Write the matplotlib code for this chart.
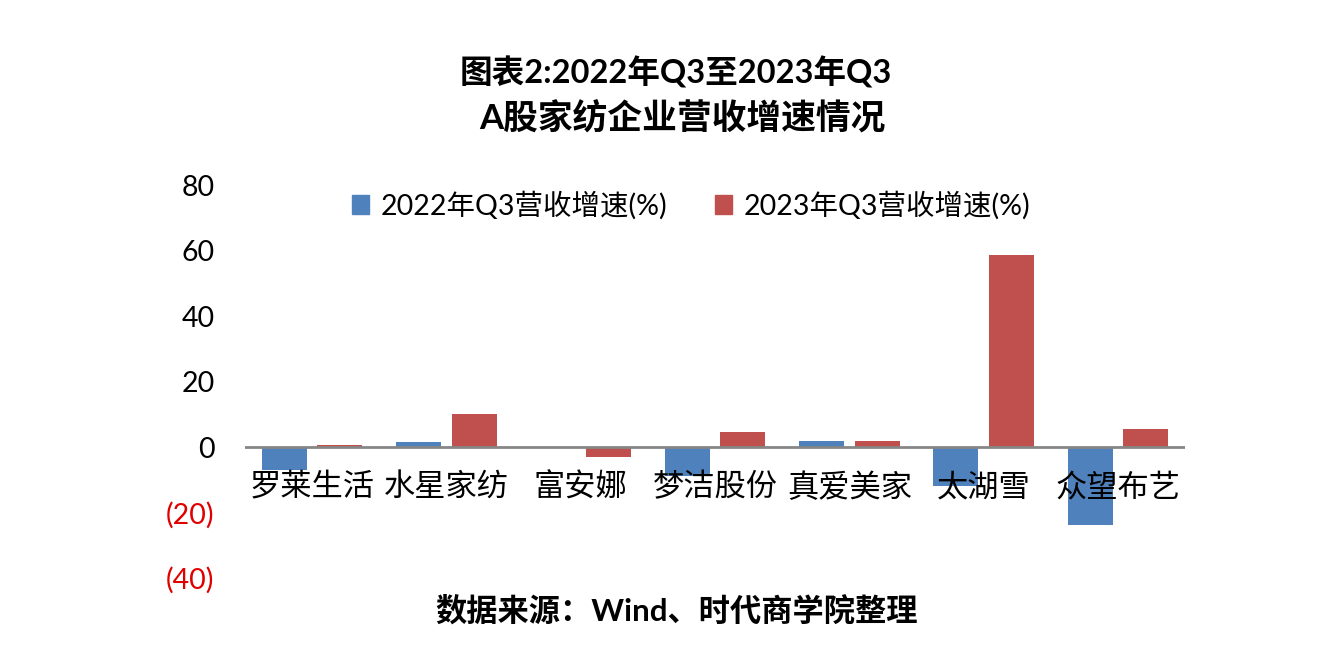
import matplotlib
matplotlib.use("Agg")
import matplotlib.pyplot as plt
import numpy as np
from matplotlib.patches import Patch

plt.rcParams['font.family'] = ['Lato', 'Noto Sans CJK SC', 'DejaVu Sans']

categories = ["罗莱生活", "水星家纺", "富安娜", "梦洁股份", "真爱美家", "太湖雪", "众望布艺"]
series_names = ["2022年Q3营收增速(%)", "2023年Q3营收增速(%)"]
growth_2022 = [-7.1, 1.5, 0.0, -8.9, 1.8, -11.9, -23.7]
growth_2023 = [0.7, 10.0, -3.0, 4.6, 1.9, 58.6, 5.6]
yticks = [-40, -20, 0, 20, 40, 60, 80]

blue = "#4F81BD"
red = "#C0504D"

fig = plt.figure(figsize=(13.22, 6.57), dpi=100)
ax = fig.add_axes([0.1853, 0.1202, 0.7112, 0.5982])

x = np.arange(len(categories))
w = 0.335
gap = 0.08
ax.bar(x - (w + gap) / 2, growth_2022, width=w, color=blue, zorder=2)
ax.bar(x + (w + gap) / 2, growth_2023, width=w, color=red, zorder=2)

ax.set_xlim(-0.5, len(categories) - 0.5)
ax.set_ylim(-40, 80)
ax.axhline(0, color="#868686", lw=2, zorder=3)

for s in ax.spines.values():
    s.set_visible(False)
ax.set_xticks([])
ax.set_yticks(yticks)
labels = []
for v in yticks:
    labels.append(f"({abs(v)})" if v < 0 else f"{v}")
ax.set_yticklabels(labels, fontsize=20.5)
ax.tick_params(axis='y', length=0, pad=22)
for t, v in zip(ax.get_yticklabels(), yticks):
    t.set_color("#E00000" if v < 0 else "black")

for xi, c in zip(x, categories):
    ax.text(xi, -12.4, c, ha="center", va="center", fontsize=22.5,
            family=['Noto Sans CJK SC'], color="black", zorder=4)

handles = [Patch(color=blue), Patch(color=red)]
leg = ax.legend(handles, series_names, loc="upper center", bbox_to_anchor=(0.4745, 1.05),
                ncol=2, frameon=False, handlelength=0.6, handleheight=0.6,
                handletextpad=0.4, columnspacing=1.7,
                prop={'family': ['Lato', 'Noto Sans CJK SC'], 'size': 20.5})

fig.text(0.511, 0.89, "图表2:2022年Q3至2023年Q3", ha="center", va="center",
         fontsize=23.5, fontweight="bold", family=['Lato', 'Noto Sans CJK SC'])
fig.text(0.516, 0.82, "A股家纺企业营收增速情况", ha="center", va="center",
         fontsize=25, fontweight="bold", family=['Lato', 'Noto Sans CJK SC'])
fig.text(0.512, 0.071, "数据来源：Wind、时代商学院整理", ha="center", va="center",
         fontsize=22.5, fontweight="bold", family=['Lato', 'Noto Sans CJK SC'])

fig.savefig("out.png", dpi=100, facecolor="white")
